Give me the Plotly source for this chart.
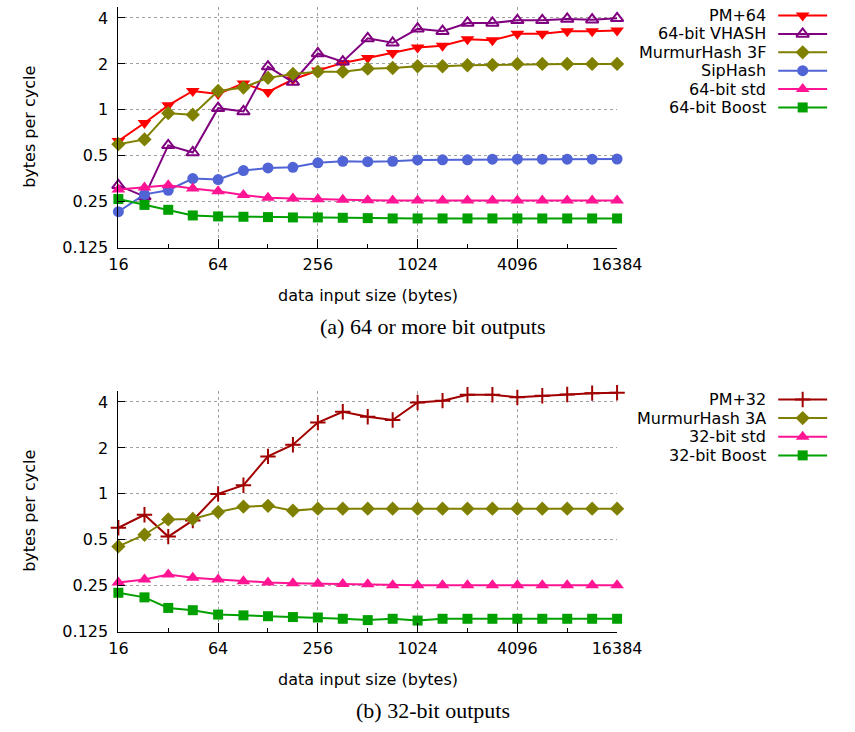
import math
import plotly.graph_objects as go

W, H = 855, 732

# ---------------- data ----------------
sizes = [16, 23, 32, 45, 64, 91, 128, 181, 256, 362, 512, 724, 1024, 1448,
         2048, 2896, 4096, 5793, 8192, 11585, 16384]

pm64 = [0.625, 0.82, 1.07, 1.33, 1.27, 1.49, 1.31, 1.58, 1.81, 2.03, 2.19,
        2.36, 2.56, 2.63, 2.90, 2.86, 3.15, 3.15, 3.27, 3.28, 3.31]
vhash64 = [0.32, 0.27, 0.585, 0.525, 1.025, 0.975, 1.92, 1.52, 2.34, 2.07, 2.94,
           2.75, 3.40, 3.28, 3.71, 3.71, 3.86, 3.86, 3.94, 3.90, 3.98]
murmur3f = [0.595, 0.64, 0.95, 0.93, 1.33, 1.40, 1.62, 1.72, 1.78, 1.78, 1.86,
            1.88, 1.93, 1.93, 1.96, 1.97, 2.0, 2.0, 2.0, 2.0, 2.0]
siphash = [0.215, 0.279, 0.297, 0.354, 0.349, 0.40, 0.416, 0.42, 0.449, 0.46, 0.457,
           0.46, 0.469, 0.47, 0.47, 0.475, 0.475, 0.475, 0.475, 0.475, 0.476]
std64 = [0.30, 0.309, 0.32, 0.305, 0.293, 0.276, 0.265, 0.262, 0.259, 0.257, 0.255,
         0.254, 0.254, 0.254, 0.254, 0.254, 0.254, 0.254, 0.254, 0.254, 0.254]
boost64 = [0.26, 0.238, 0.221, 0.203, 0.20, 0.199, 0.198, 0.197, 0.197, 0.196, 0.195,
           0.194, 0.194, 0.194, 0.194, 0.194, 0.194, 0.194, 0.194, 0.194, 0.194]

pm32 = [0.60, 0.73, 0.525, 0.67, 1.0, 1.14, 1.76, 2.10, 2.93, 3.45, 3.20,
        3.05, 3.97, 4.08, 4.46, 4.46, 4.29, 4.39, 4.48, 4.57, 4.60]
murmur3a = [0.453, 0.54, 0.68, 0.685, 0.76, 0.824, 0.835, 0.777, 0.80, 0.80, 0.80,
            0.80, 0.80, 0.80, 0.80, 0.80, 0.80, 0.80, 0.80, 0.80, 0.80]
std32 = [0.263, 0.275, 0.296, 0.282, 0.275, 0.268, 0.263, 0.26, 0.258, 0.257, 0.256,
         0.252, 0.252, 0.252, 0.252, 0.252, 0.252, 0.252, 0.252, 0.252, 0.252]
boost32 = [0.225, 0.21, 0.179, 0.173, 0.162, 0.16, 0.158, 0.156, 0.155, 0.152, 0.149,
           0.152, 0.148, 0.152, 0.152, 0.152, 0.152, 0.152, 0.152, 0.152, 0.152]

x_tickvals = [16, 64, 256, 1024, 4096, 16384]
x_ticktext = ["16", "64", "256", "1024", "4096", "16384"]
x_minorvals = [32, 128, 512, 2048, 8192]
y_tickvals = [0.125, 0.25, 0.5, 1, 2, 4]
y_ticktext = ["0.125", "0.25", "0.5", "1", "2", "4"]

top_series = [
    ("PM+64", pm64, "#ff0000", "triangle-down", 12),
    ("64-bit VHASH", vhash64, "#800080", "triangle-up-open", 11),
    ("MurmurHash 3F", murmur3f, "#808000", "diamond", 11),
    ("SipHash", siphash, "#5064d6", "circle", 11),
    ("64-bit std", std64, "#ff1493", "triangle-up", 12),
    ("64-bit Boost", boost64, "#00a000", "square", 10),
]
bot_series = [
    ("PM+32", pm32, "#a00000", "cross-thin", 11),
    ("MurmurHash 3A", murmur3a, "#808000", "diamond", 11),
    ("32-bit std", std32, "#ff1493", "triangle-up", 12),
    ("32-bit Boost", boost32, "#00a000", "square", 10),
]

FONT = "DejaVu Sans"

X0, X1 = 113, 633
TOP_Y0, TOP_Y1 = 6.7, 251.0
BOT_Y0, BOT_Y1 = 396.0, 640.5


def py(p):
    return 1 - p / H


fig = go.Figure()


def marker_for(color, symbol, size):
    if symbol == "cross-thin" or symbol.endswith("-open"):
        return dict(symbol=symbol, size=size, color=color, line=dict(color=color, width=2))
    return dict(symbol=symbol, size=size, color=color, line=dict(width=0))


for name, vals, color, sym, sz in top_series:
    fig.add_trace(go.Scatter(x=sizes, y=vals, name=name, mode="lines+markers",
                             line=dict(color=color, width=2), marker=marker_for(color, sym, sz),
                             cliponaxis=False, showlegend=False, xaxis="x", yaxis="y"))
for name, vals, color, sym, sz in bot_series:
    fig.add_trace(go.Scatter(x=sizes, y=vals, name=name, mode="lines+markers",
                             line=dict(color=color, width=2), marker=marker_for(color, sym, sz),
                             cliponaxis=False, showlegend=False, xaxis="x2", yaxis="y2"))

# custom legends: label text on the left, line+marker key on the right
LEG_X0 = 786.0
key_x0, key_x1, key_xm = 801.0, 852.0, 826.5
annotations = []


def add_legend(series, first_row, spacing):
    for i, (name, vals, color, sym, sz) in enumerate(series):
        yrow = first_row + i * spacing
        fig.add_trace(go.Scatter(x=[key_x0, key_x1], y=[yrow, yrow], mode="lines",
                                 line=dict(color=color, width=2), showlegend=False,
                                 hoverinfo="skip", cliponaxis=False, xaxis="x3", yaxis="y3"))
        fig.add_trace(go.Scatter(x=[key_xm], y=[yrow], mode="markers",
                                 marker=marker_for(color, sym, sz), showlegend=False,
                                 hoverinfo="skip", cliponaxis=False, xaxis="x3", yaxis="y3"))
        annotations.append(dict(x=790 / W, y=py(yrow), xref="paper", yref="paper",
                                text=name, showarrow=False, xanchor="right", yanchor="middle",
                                font=dict(family=FONT, size=16, color="#000")))


add_legend(top_series, 15.7, 18.65)
add_legend(bot_series, 405.0, 18.9)

for yc_title, axis_y, cap in [((TOP_Y0 + TOP_Y1) / 2, TOP_Y1, "(a) 64 or more bit outputs"),
                              ((BOT_Y0 + BOT_Y1) / 2, BOT_Y1, "(b) 32-bit outputs")]:
    annotations.append(dict(x=19.5 / W, y=py(yc_title), xref="paper", yref="paper",
                            text="bytes per cycle", textangle=-90, showarrow=False,
                            xanchor="center", yanchor="middle",
                            font=dict(family=FONT, size=16, color="#000")))
    annotations.append(dict(x=373 / W, y=py(axis_y + 48.3), xref="paper", yref="paper",
                            text="data input size (bytes)", showarrow=False,
                            xanchor="center", yanchor="middle",
                            font=dict(family=FONT, size=16, color="#000")))
    annotations.append(dict(x=441 / W, y=py(axis_y + 80.2), xref="paper", yref="paper",
                            text=cap, showarrow=False, xanchor="center", yanchor="middle",
                            font=dict(family="Liberation Serif", size=22, color="#000")))

EPS = 1e-7
y_range = [math.log10(0.125), math.log10(4.75)]
x_range = [math.log10(16) - EPS, math.log10(16384) + EPS]

xaxis_common = dict(type="log", range=x_range, tickmode="array", tickvals=x_tickvals,
                    ticktext=x_ticktext, ticks="inside", ticklen=9, tickwidth=1,
                    tickcolor="#000", showline=True, linecolor="#000", linewidth=1,
                    mirror=False, showgrid=True, gridcolor="#a0a0a0", griddash="dot",
                    gridwidth=1, zeroline=False, ticklabelstandoff=2,
                    tickfont=dict(family=FONT, size=16, color="#000"),
                    minor=dict(tickvals=x_minorvals, ticks="inside", ticklen=4,
                               tickcolor="#000", tickwidth=1, showgrid=False))
yaxis_common = dict(type="log", range=y_range, tickmode="array", tickvals=y_tickvals,
                    ticktext=y_ticktext, ticks="inside", ticklen=7, tickwidth=1,
                    tickcolor="#000", showline=True, linecolor="#000", linewidth=1,
                    mirror=False, showgrid=True, gridcolor="#a0a0a0", griddash="dot",
                    gridwidth=1, zeroline=False, ticklabelstandoff=6,
                    tickfont=dict(family=FONT, size=16, color="#000"))

fig.update_layout(
    width=W, height=H,
    margin=dict(l=0, r=0, t=0, b=0),
    paper_bgcolor="white", plot_bgcolor="rgba(0,0,0,0)",
    showlegend=False,
    xaxis=dict(domain=[X0 / W, X1 / W], anchor="y", **xaxis_common),
    yaxis=dict(domain=[py(TOP_Y1), py(TOP_Y0)], anchor="x", **yaxis_common),
    xaxis2=dict(domain=[X0 / W, X1 / W], anchor="y2", **xaxis_common),
    yaxis2=dict(domain=[py(BOT_Y1), py(BOT_Y0)], anchor="x2", **yaxis_common),
    xaxis3=dict(domain=[LEG_X0 / W, 1.0], range=[LEG_X0, W], anchor="y3", visible=False),
    yaxis3=dict(domain=[0, 1], range=[H, 0], anchor="x3", visible=False),
    annotations=annotations,
)

fig.write_html("out.html")
